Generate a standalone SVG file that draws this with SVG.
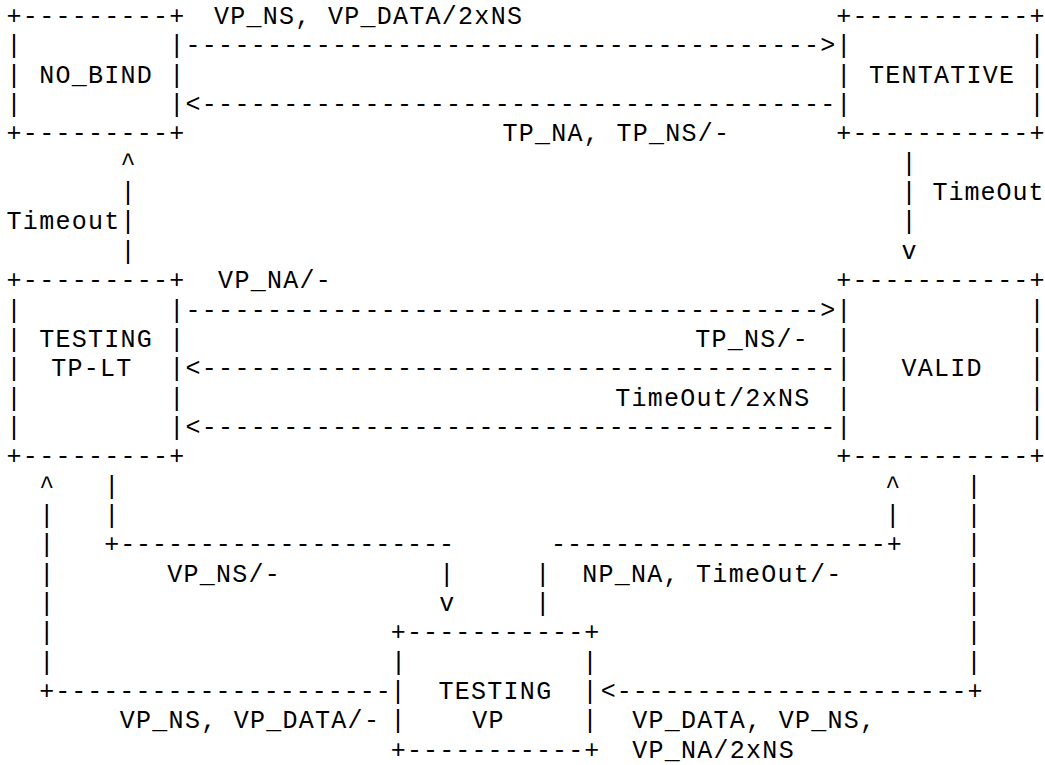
<svg xmlns="http://www.w3.org/2000/svg" width="1045" height="765" viewBox="0 0 1045 765" xml:space="preserve">
<style>
text { font-family: "Liberation Mono", "Courier New", monospace; font-size: 25px; letter-spacing: 1.27px; fill: #000; white-space: pre; }
text.e { letter-spacing: 0px; }
text.b { letter-spacing: 1.08px; }
</style>
<rect x="0" y="0" width="1045" height="765" fill="#fff"/>
<g id="node-no-bind">
<text x="6.6" y="24">+---------+</text>
<text x="6.6" y="53.35">|         |</text>
<text x="6.6" y="82.7">| NO_BIND |</text>
<text x="6.6" y="112.05">|         |</text>
<text x="6.6" y="141.4">+---------+</text>
</g>
<g id="node-tentative">
<text class="b" x="836.37" y="24">+-----------</text>
<text class="e" x="1029.5" y="24">+</text>
<text x="836.37" y="53.35">|</text>
<text class="e" x="1029.5" y="53.35">|</text>
<text x="836.37" y="82.7">|</text>
<text x="868.91" y="82.7">TENTATIVE</text>
<text class="e" x="1029.5" y="82.7">|</text>
<text x="836.37" y="112.05">|</text>
<text class="e" x="1029.5" y="112.05">|</text>
<text class="b" x="836.37" y="141.4">+-----------</text>
<text class="e" x="1029.5" y="141.4">+</text>
</g>
<g id="node-testing-tp-lt">
<text x="6.6" y="288.15">+---------+</text>
<text x="6.6" y="317.5">|         |</text>
<text x="6.6" y="346.85">| TESTING |</text>
<text x="6.6" y="376.2">|</text>
<text x="51.2" y="376.2">TP-LT</text>
<text x="169.3" y="376.2">|</text>
<text x="6.6" y="405.55">|         |</text>
<text x="6.6" y="434.9">|         |</text>
<text x="6.6" y="464.25">+---------+</text>
</g>
<g id="node-valid">
<text class="b" x="836.37" y="288.15">+-----------</text>
<text class="e" x="1029.5" y="288.15">+</text>
<text x="836.37" y="317.5">|</text>
<text class="e" x="1029.5" y="317.5">|</text>
<text x="836.37" y="346.85">|</text>
<text class="e" x="1029.5" y="346.85">|</text>
<text x="836.37" y="376.2">|</text>
<text x="901.45" y="376.2">VALID</text>
<text class="e" x="1029.5" y="376.2">|</text>
<text x="836.37" y="405.55">|</text>
<text class="e" x="1029.5" y="405.55">|</text>
<text x="836.37" y="434.9">|</text>
<text class="e" x="1029.5" y="434.9">|</text>
<text class="b" x="836.37" y="464.25">+-----------</text>
<text class="e" x="1029.5" y="464.25">+</text>
</g>
<g id="node-testing-vp">
<text x="390.8" y="640.35" style="letter-spacing:1.12px">+-----------+</text>
<text x="391" y="669.7">|</text>
<text x="582.5" y="669.7">|</text>
<text x="390.5" y="699.05">|</text>
<text x="438.5" y="699.05">TESTING</text>
<text x="582.5" y="699.05">|</text>
<text x="390.5" y="728.4">|</text>
<text x="472.2" y="728.4">VP</text>
<text x="582.5" y="728.4">|</text>
<text x="390.8" y="757.75" style="letter-spacing:1.12px">+-----------+</text>
</g>
<g id="connectors">
<text x="214" y="24">VP_NS, VP_DATA/2xNS</text>
<text x="185.57" y="53.35">---------------------------------------&gt;</text>
<text x="185.57" y="112.05">&lt;---------------------------------------</text>
<text x="502.5" y="141.4">TP_NA, TP_NS/-</text>
<text x="120.49" y="170.75">^</text>
<text x="901.45" y="170.75">|</text>
<text x="120.49" y="200.1">|</text>
<text x="901.45" y="200.1">|</text>
<text x="932.5" y="200.1" style="letter-spacing:1px">TimeOut</text>
<text x="6.6" y="229.45">Timeout|</text>
<text x="901.45" y="229.45">|</text>
<text x="120.49" y="258.8">|</text>
<text x="901.45" y="258.8">v</text>
<text x="218.11" y="288.15">VP_NA/-</text>
<text x="185.57" y="317.5">---------------------------------------&gt;</text>
<text x="695.2" y="346.85">TP_NS/-</text>
<text x="185.57" y="376.2">&lt;---------------------------------------</text>
<text x="615.2" y="405.55">TimeOut/2xNS</text>
<text x="185.57" y="434.9">&lt;---------------------------------------</text>
<text x="39.14" y="493.6">^</text>
<text x="104.22" y="493.6">|</text>
<text x="885.18" y="493.6">^</text>
<text x="966.53" y="493.6">|</text>
<text x="39.14" y="522.95">|</text>
<text x="104.22" y="522.95">|</text>
<text x="885.18" y="522.95">|</text>
<text x="966.53" y="522.95">|</text>
<text x="39.14" y="552.3">|</text>
<text x="104.2" y="552.3" style="letter-spacing:0.94px">+---------------------</text>
<text x="551" y="552.3" style="letter-spacing:0.98px">---------------------+</text>
<text x="966.53" y="552.3">|</text>
<text x="39.14" y="581.65">|</text>
<text x="167.2" y="581.65">VP_NS/-</text>
<text x="439.2" y="581.65">|</text>
<text x="535.2" y="581.65">|</text>
<text x="582.2" y="581.65">NP_NA, TimeOut/-</text>
<text x="966.53" y="581.65">|</text>
<text x="39.14" y="611">|</text>
<text x="439.2" y="611">v</text>
<text x="535.2" y="611">|</text>
<text x="966.53" y="611">|</text>
<text x="39.14" y="640.35">|</text>
<text x="966.53" y="640.35">|</text>
<text x="39.14" y="669.7">|</text>
<text x="966.53" y="669.7">|</text>
<text x="39.2" y="699.05" style="letter-spacing:1.03px">+---------------------</text>
<text x="600.8" y="699.05" style="letter-spacing:0.94px">&lt;----------------------+</text>
<text x="119.8" y="728.4">VP_NS, VP_DATA/-</text>
<text x="632.2" y="728.4">VP_DATA, VP_NS,</text>
<text x="632.2" y="757.75">VP_NA/2xNS</text>
</g>
</svg>
